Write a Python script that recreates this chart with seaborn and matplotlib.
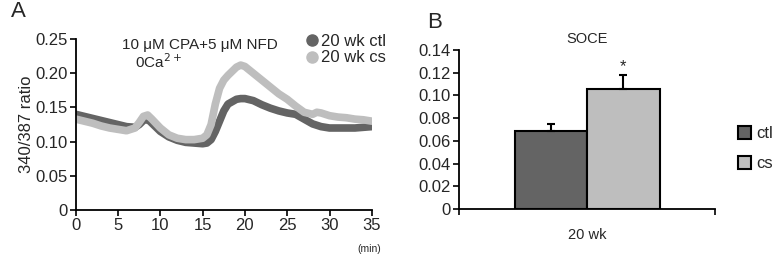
import pandas as pd
import numpy as np
import matplotlib
matplotlib.use('Agg')
import matplotlib.pyplot as plt
import seaborn as sns
from matplotlib.lines import Line2D
from matplotlib.patches import Patch

sns.set_style('ticks')
plt.rcParams['font.family'] = ['Liberation Sans', 'DejaVu Sans']

# Panel A: Fura-2 trace (340/387 ratio vs time, min)
time_min = [0, 1, 2, 3, 4, 5, 6, 7, 7.5, 8, 8.5, 9, 10, 11, 12, 13, 14, 15, 15.5, 16,
            16.5, 17, 17.5, 18, 19, 19.5, 20, 21, 22, 23, 24, 25, 26, 27, 28, 28.5,
            29, 30, 31, 32, 33, 34, 35]
ratio_ctl = [0.140, 0.137, 0.134, 0.131, 0.128, 0.125, 0.122, 0.121, 0.125, 0.131, 0.133,
             0.127, 0.115, 0.107, 0.102, 0.099, 0.098, 0.097, 0.098, 0.103, 0.115, 0.130,
             0.145, 0.155, 0.162, 0.163, 0.163, 0.160, 0.154, 0.149, 0.145, 0.142, 0.140,
             0.133, 0.126, 0.124, 0.122, 0.120, 0.120, 0.120, 0.120, 0.121, 0.122]
ratio_cs = [0.133, 0.130, 0.127, 0.123, 0.120, 0.118, 0.116, 0.120, 0.128, 0.137, 0.139,
            0.133, 0.120, 0.110, 0.105, 0.103, 0.103, 0.105, 0.110, 0.125, 0.155, 0.178,
            0.190, 0.197, 0.209, 0.212, 0.210, 0.200, 0.190, 0.180, 0.170, 0.162, 0.152,
            0.143, 0.140, 0.143, 0.142, 0.138, 0.136, 0.135, 0.133, 0.132, 0.130]
trace_labels = ['20 wk ctl', '20 wk cs']

# Panel B: SOCE amplitude
groups = ['ctl', 'cs']
soce_mean = [0.069, 0.106]
soce_err = [0.006, 0.012]

dark = '#646464'
light = '#bebebe'

trace_df = pd.concat([
    pd.DataFrame({'time': time_min, 'ratio': ratio_ctl, 'group': trace_labels[0]}),
    pd.DataFrame({'time': time_min, 'ratio': ratio_cs, 'group': trace_labels[1]}),
])
bar_df = pd.DataFrame({'age': '20 wk', 'group': groups, 'soce': soce_mean})

fig = plt.figure(figsize=(7.73, 2.59), dpi=100)
axA = fig.add_axes([0.098, 0.189, 0.383, 0.660])
axB = fig.add_axes([0.594, 0.193, 0.331, 0.614])

fs = 12

# ---- Panel A (cs trace drawn over ctl)
sns.lineplot(data=trace_df, x='time', y='ratio', hue='group',
             palette={trace_labels[0]: dark, trace_labels[1]: light},
             hue_order=trace_labels,
             linewidth=5.5, solid_capstyle='round', legend=False, ax=axA)
axA.set_xlim(0, 35)
axA.set_ylim(0, 0.25)
axA.set_xticks(np.arange(0, 36, 5))
axA.set_yticks(np.arange(0, 0.26, 0.05))
axA.set_yticklabels(['0', '0.05', '0.10', '0.15', '0.20', '0.25'])
axA.set_xlabel('')
axA.set_ylabel('340/387 ratio', fontsize=fs, labelpad=1)
axA.tick_params(labelsize=fs, length=4, width=1.2, color='black', pad=2)
sns.despine(ax=axA)
for s in ['left', 'bottom']:
    axA.spines[s].set_linewidth(1.3)
    axA.spines[s].set_color('black')

axA.text(0.42, 0.965, '10 \u03bcM CPA+5 \u03bcM NFD', transform=axA.transAxes,
         fontsize=11, ha='center', va='center')
axA.text(0.28, 0.87, '0Ca$^{2+}$', transform=axA.transAxes,
         fontsize=11, ha='center', va='center')
handlesA = [Line2D([], [], marker='o', ls='', color=dark, markersize=8),
            Line2D([], [], marker='o', ls='', color=light, markersize=8)]
axA.legend(handlesA, trace_labels, loc='upper left', bbox_to_anchor=(0.745, 1.07),
           frameon=False, fontsize=fs, handletextpad=0.0, labelspacing=0.1,
           borderaxespad=0, handlelength=1.1)
fig.text(0.014, 0.955, 'A', fontsize=16, va='center')
fig.text(0.478, 0.038, '(min)', fontsize=7.5, ha='center', va='center')

# ---- Panel B
sns.barplot(data=bar_df, x='age', y='soce', hue='group', hue_order=groups,
            palette={'ctl': dark, 'cs': light}, width=0.567,
            edgecolor='black', linewidth=1.5, legend=False, ax=axB)
for patch, m, e in zip(axB.patches, soce_mean, soce_err):
    xc = patch.get_x() + patch.get_width() / 2
    axB.errorbar(xc, m, yerr=[[0], [e]], fmt='none', ecolor='black',
                 elinewidth=1.5, capsize=3, capthick=1.5)
axB.text(axB.patches[1].get_x() + axB.patches[1].get_width() / 2,
         soce_mean[1] + soce_err[1] + 0.001, '*', ha='center', va='bottom', fontsize=12)
axB.set_xlim(-0.5, 0.5)
axB.set_ylim(0, 0.14)
axB.set_yticks(np.arange(0, 0.141, 0.02))
axB.set_yticklabels(['0', '0.02', '0.04', '0.06', '0.08', '0.10', '0.12', '0.14'])
axB.set_xticks([-0.5, 0.5])
axB.set_xticklabels(['', ''])
axB.set_xlabel('')
axB.set_ylabel('')
axB.tick_params(labelsize=fs, length=4, width=1.2, color='black', pad=2)
sns.despine(ax=axB)
for s in ['left', 'bottom']:
    axB.spines[s].set_linewidth(1.3)
    axB.spines[s].set_color('black')
axB.text(0.5, -0.165, '20 wk', transform=axB.transAxes, ha='center', va='center', fontsize=10.5)
axB.text(0.5, 1.07, 'SOCE', transform=axB.transAxes, ha='center', va='center', fontsize=10.5)
handlesB = [Patch(facecolor=dark, edgecolor='black', linewidth=1.5),
            Patch(facecolor=light, edgecolor='black', linewidth=1.5)]
axB.legend(handlesB, groups, loc='center left', bbox_to_anchor=(1.03, 0.38),
           frameon=False, fontsize=fs, handlelength=0.8, handleheight=0.8,
           handletextpad=0.3, labelspacing=0.9)
fig.text(0.553, 0.915, 'B', fontsize=16, va='center')

fig.savefig('out.png', dpi=100)
